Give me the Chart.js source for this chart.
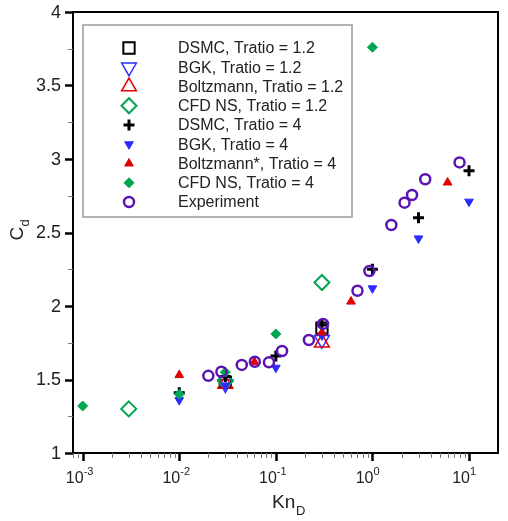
<!DOCTYPE html>
<html>
<head>
<meta charset="utf-8">
<script src="https://cdn.jsdelivr.net/npm/chart.js"></script>
<style>
  body { margin: 0; background: #fff; }
  #wrap { width: 508px; height: 521px; }
</style>
</head>
<body>
<div id="wrap"><canvas id="cdChart" width="508" height="521"></canvas></div>
<script>
// series data (Kn_D, C_d)
const dsmc12X = [0.03, 0.3];
const dsmc12Y = [1.48, 1.85];
const bgk12X = [0.03, 0.3];
const bgk12Y = [1.47, 1.77];
const boltz12X = [0.03, 0.3];
const boltz12Y = [1.47, 1.75];
const cfd12X = [0.003, 0.03, 0.3];
const cfd12Y = [1.30, 1.49, 2.16];
const dsmc4X = [0.01, 0.03, 0.1, 0.3, 1, 3, 10];
const dsmc4Y = [1.41, 1.52, 1.66, 1.87, 2.25, 2.60, 2.92];
const bgk4X = [0.01, 0.03, 0.1, 0.3, 1, 3, 10];
const bgk4Y = [1.36, 1.46, 1.58, 1.80, 2.12, 2.46, 2.71];
const boltz4X = [0.01, 0.06, 0.3, 0.6, 6];
const boltz4Y = [1.53, 1.62, 1.82, 2.03, 2.84];
const cfd4X = [0.001, 0.01, 0.03, 0.1, 1];
const cfd4Y = [1.32, 1.40, 1.55, 1.81, 3.76];
const expX = [0.02, 0.0273, 0.0444, 0.0606, 0.0849, 0.116, 0.22, 0.308, 0.70, 0.93, 1.57, 2.15, 2.57, 3.52, 7.98];
const expY = [1.525, 1.553, 1.599, 1.621, 1.617, 1.694, 1.769, 1.878, 2.104, 2.238, 2.551, 2.703, 2.755, 2.862, 2.977];

const seriesNames = [
  'DSMC, Tratio = 1.2', 'BGK, Tratio = 1.2', 'Boltzmann, Tratio = 1.2', 'CFD NS, Tratio = 1.2',
  'DSMC, Tratio = 4', 'BGK, Tratio = 4', 'Boltzmann*, Tratio = 4', 'CFD NS, Tratio = 4', 'Experiment'
];
const xMajor = [0.001, 0.01, 0.1, 1, 10];
const xMajorExp = ['-3', '-2', '-1', '0', '1'];
const yLabels = [1, 1.5, 2, 2.5, 3, 3.5, 4];

const BLACK = '#000000', BLUE = '#2b2bff', RED = '#e00000', GREEN = '#00a651', PURPLE = '#5a14b4';

function pts(xs, ys) { return xs.map((x, i) => ({x: x, y: ys[i]})); }

function mk(i, xs, ys, style, color, filled, r, bw, rot) {
  return {
    label: seriesNames[i],
    data: pts(xs, ys),
    pointStyle: style,
    pointRadius: r,
    pointHoverRadius: r,
    pointBorderWidth: bw,
    pointRotation: rot || 0,
    borderColor: color,
    backgroundColor: filled ? color : 'rgba(0,0,0,0)',
    showLine: false,
    order: 8 - i
  };
}

const datasets = [
  mk(0, dsmc12X, dsmc12Y, 'rect', BLACK, false, 8, 2),
  mk(1, bgk12X, bgk12Y, 'triangle', BLUE, false, 8.5, 1.5, 180),
  mk(2, boltz12X, boltz12Y, 'triangle', RED, false, 8.5, 1.5),
  mk(3, cfd12X, cfd12Y, 'rectRot', GREEN, false, 7.5, 2),
  mk(4, dsmc4X, dsmc4Y, 'cross', BLACK, false, 5.5, 3),
  mk(5, bgk4X, bgk4Y, 'triangle', BLUE, true, 5, 1, 180),
  mk(6, boltz4X, boltz4Y, 'triangle', RED, true, 5, 1),
  mk(7, cfd4X, cfd4Y, 'rectRot', GREEN, true, 5, 1),
  mk(8, expX, expY, 'circle', PURPLE, false, 5, 2.5)
];

const FONT = '"Liberation Sans", Arial, sans-serif';

const framePlugin = {
  id: 'frame',
  afterDraw(chart) {
    const ctx = chart.ctx, a = chart.chartArea;
    const xs = chart.scales.x, ys = chart.scales.y;
    ctx.save();
    // frame
    ctx.strokeStyle = '#000';
    ctx.lineWidth = 2;
    ctx.strokeRect(a.left, a.top, a.right - a.left, a.bottom - a.top);

    // x ticks (log)
    for (let k = -4; k <= 1; k++) {
      for (let m = 1; m <= 9; m++) {
        const v = m * Math.pow(10, k);
        if (v < xs.min || v > xs.max) continue;
        const px = Math.round(xs.getPixelForValue(v)) + 0.5;
        ctx.beginPath();
        if (m === 1) { ctx.strokeStyle = '#000'; ctx.lineWidth = 2.5; ctx.moveTo(px, a.bottom); ctx.lineTo(px, a.bottom + 8); }
        else { ctx.strokeStyle = '#777'; ctx.lineWidth = 1; ctx.moveTo(px, a.bottom); ctx.lineTo(px, a.bottom + 5); }
        ctx.stroke();
      }
    }
    // y ticks
    for (let v = 1; v <= 4.001; v += 0.25) {
      const py = Math.round(ys.getPixelForValue(v)) + 0.5;
      const major = Math.abs(v * 2 - Math.round(v * 2)) < 1e-6;
      ctx.beginPath();
      if (major) { ctx.strokeStyle = '#000'; ctx.lineWidth = 2.5; ctx.moveTo(a.left, py); ctx.lineTo(a.left - 8, py); }
      else { ctx.strokeStyle = '#777'; ctx.lineWidth = 1; ctx.moveTo(a.left, py); ctx.lineTo(a.left - 5, py); }
      ctx.stroke();
    }

    // y tick labels
    ctx.fillStyle = '#222';
    ctx.font = '18px ' + FONT;
    ctx.textAlign = 'right';
    ctx.textBaseline = 'middle';
    yLabels.forEach(v => ctx.fillText(String(v), a.left - 12, ys.getPixelForValue(v) + 1));

    // x tick labels with exponents
    ctx.textBaseline = 'alphabetic';
    xMajor.forEach((v, i) => {
      const px = xs.getPixelForValue(v);
      ctx.font = '16px ' + FONT;
      ctx.textAlign = 'right';
      ctx.fillText('10', px + 1, a.bottom + 30);
      ctx.font = '11px ' + FONT;
      ctx.textAlign = 'left';
      ctx.fillText(xMajorExp[i], px + 1, a.bottom + 22);
    });

    // axis titles
    ctx.font = '19px ' + FONT;
    ctx.textAlign = 'left';
    ctx.fillText('Kn', 272, 508);
    ctx.font = '13px ' + FONT;
    ctx.fillText('D', 296, 515);

    ctx.save();
    ctx.translate(23, (a.top + a.bottom) / 2);
    ctx.rotate(-Math.PI / 2);
    ctx.font = '19px ' + FONT;
    ctx.textAlign = 'left';
    ctx.fillText('C', -8, 0);
    ctx.font = '13px ' + FONT;
    ctx.fillText('d', 6, 6);
    ctx.restore();

    // legend
    const lx = 83, ly = 25, lw = 269, lh = 192;
    ctx.fillStyle = '#fff';
    ctx.fillRect(lx, ly, lw, lh);
    ctx.strokeStyle = '#9a9a9a';
    ctx.lineWidth = 1.5;
    ctx.strokeRect(lx, ly, lw, lh);
    chart.data.datasets.forEach((ds, i) => {
      const y = 48 + i * 19.25;
      ctx.save();
      ctx.strokeStyle = ds.borderColor;
      ctx.fillStyle = ds.backgroundColor;
      ctx.lineWidth = ds.pointBorderWidth;
      Chart.helpers.drawPoint(ctx, {
        pointStyle: ds.pointStyle,
        radius: ds.pointRadius,
        rotation: ds.pointRotation,
        borderWidth: ds.pointBorderWidth
      }, 129, y);
      ctx.restore();
      ctx.fillStyle = '#222';
      ctx.font = '16px ' + FONT;
      ctx.textAlign = 'left';
      ctx.textBaseline = 'middle';
      ctx.fillText(ds.label, 178, y + 1);
    });
    ctx.restore();
  }
};

const bgPlugin = {
  id: 'bg',
  beforeDraw(chart) {
    const ctx = chart.ctx;
    ctx.save();
    ctx.fillStyle = '#fff';
    ctx.fillRect(0, 0, chart.width, chart.height);
    ctx.restore();
  }
};

new Chart(document.getElementById('cdChart').getContext('2d'), {
  type: 'scatter',
  data: { datasets: datasets },
  options: {
    responsive: false,
    animation: false,
    layout: { padding: { top: 12, right: 3, left: 0, bottom: 0 } },
    plugins: { legend: { display: false }, tooltip: { enabled: false } },
    scales: {
      x: {
        type: 'logarithmic',
        min: Math.pow(10, -3.1),
        max: Math.pow(10, 1.3),
        grid: { display: false },
        border: { display: false },
        ticks: { display: false },
        afterFit: s => { s.height = 68; }
      },
      y: {
        min: 1,
        max: 4,
        grid: { display: false },
        border: { display: false },
        ticks: { display: false },
        afterFit: s => { s.width = 73; }
      }
    }
  },
  plugins: [bgPlugin, framePlugin]
});
</script>
</body>
</html>
